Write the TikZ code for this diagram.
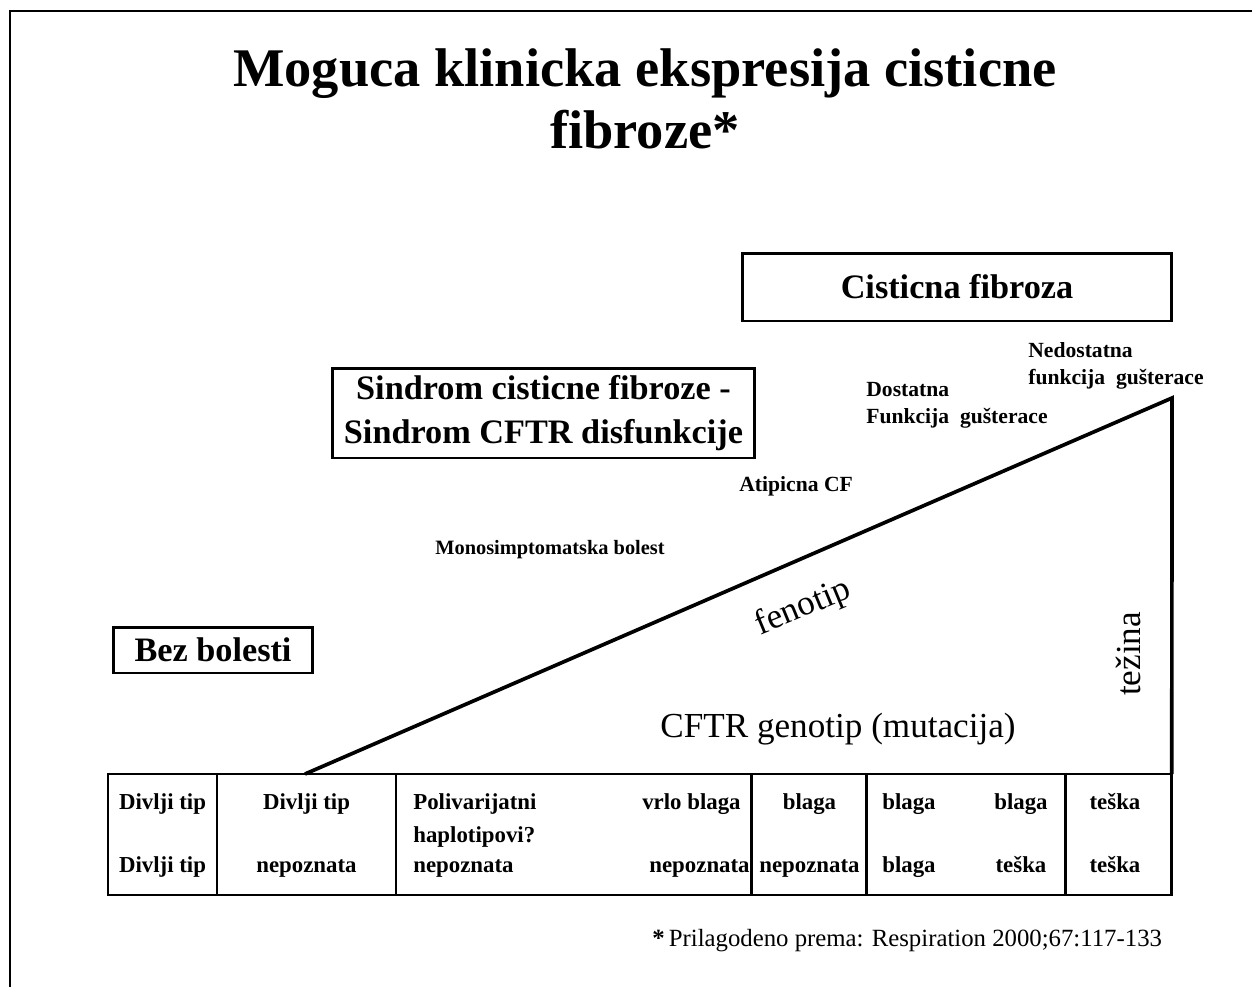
\documentclass[tikz,border=0pt]{standalone}
\usepackage{fontspec}
\setmainfont{Liberation Serif}
\begin{document}
\begin{tikzpicture}[x=0.02cm,y=-0.02cm]
\tikzset{
  frameline/.style={line width=1.4pt},
  labbox/.style={draw, line width=1.7pt, inner sep=0pt, outer sep=0pt, align=center,
    font=\bfseries\fontsize{19.5}{25}\selectfont},
  cell/.style={draw, line width=1.6pt, inner sep=0pt, outer sep=0pt, minimum height=2.42cm, anchor=north west},
  celltxt/.style={font=\bfseries\fontsize{13}{15}\selectfont, inner sep=0pt},
  small/.style={font=\bfseries\fontsize{12.3}{15.5}\selectfont, inner sep=0pt, align=left},
  axislab/.style={font=\fontsize{20}{24}\selectfont, inner sep=0pt},
  triline/.style={line width=2.1pt}
}
\path[use as bounding box] (0,0) rectangle (1252,987);
\draw[frameline] (10,987) -- (10,11) -- (1252,11);

% title
\node[font=\bfseries\fontsize{31}{35}\selectfont, align=center, inner sep=0pt] (title) at (645,99)
  {Moguca klinicka ekspresija cisticne\\fibroze*};

% boxes
\node[labbox, minimum width=8.6cm, minimum height=1.36cm] (cf) at (957,287) {Cisticna fibroza};
\node[labbox, minimum width=8.46cm, minimum height=1.8cm] (scf) at (543.5,413)
  {Sindrom cisticne fibroze -\\Sindrom CFTR disfunkcije};
\node[labbox, minimum width=4.0cm, minimum height=0.92cm] (bez) at (213,650) {Bez bolesti};

% table cells
\node[cell, minimum width=2.18cm] (c1) at (108,774) {};
\node[cell, minimum width=3.58cm] (c2) at (c1.north east) {};
\node[cell, minimum width=7.12cm] (c3) at (c2.north east) {};
\node[cell, minimum width=2.30cm] (c4) at (c3.north east) {};
\node[cell, minimum width=3.98cm] (c5) at (c4.north east) {};
\node[cell, minimum width=2.12cm] (c6) at (c5.north east) {};

% triangle
\coordinate (tA) at (305,774);
\coordinate (tB) at (1172,398);
\coordinate (tC) at (c6.north east);
\draw[triline, line join=miter] (tA) -- (tB) -- (tC);

% table text
\node[celltxt, anchor=mid] (t11) at (162.5,805) {Divlji tip};
\node[celltxt, anchor=mid] (t12) at (162.5,868) {Divlji tip};
\node[celltxt, anchor=mid] (t21) at (306.5,805) {Divlji tip};
\node[celltxt, anchor=mid] (t22) at (306.5,868) {nepoznata};
\node[celltxt, anchor=mid west] (t31) at (413,805) {Polivarijatni};
\node[celltxt, anchor=mid west] (t3h) at (413,838) {haplotipovi?};
\node[celltxt, anchor=mid west] (t32) at (413,868) {nepoznata};
\node[celltxt, anchor=mid east] (t33) at (741,805) {vrlo blaga};
\node[celltxt, anchor=mid east] (t34) at (750,868) {nepoznata};
\node[celltxt, anchor=mid] (t41) at (809.5,805) {blaga};
\node[celltxt, anchor=mid] (t42) at (809.5,868) {nepoznata};
\node[celltxt, anchor=mid] (t51) at (909,805) {blaga};
\node[celltxt, anchor=mid] (t52) at (1021,805) {blaga};
\node[celltxt, anchor=mid] (t53) at (909,868) {blaga};
\node[celltxt, anchor=mid] (t54) at (1021,868) {teška};
\node[celltxt, anchor=mid] (t61) at (1115,805) {teška};
\node[celltxt, anchor=mid] (t62) at (1115,868) {teška};

% small labels
\node[small, anchor=west] (ned) at (1028,366) {Nedostatna\\funkcija\ \ gušterace};
\node[small, anchor=west] (dos) at (866,405) {Dostatna\\Funkcija\ \ gušterace};
\node[small, anchor=mid west] (ati) at (739,487) {Atipicna CF};
\node[small, anchor=mid, font=\bfseries\fontsize{11.6}{14}\selectfont] (mono) at (550,550) {Monosimptomatska bolest};

% axis labels
\node[axislab, rotate=22.5] (fen) at (803,608) {fenotip};
\node[axislab, rotate=90] (tez) at (1128,654) {težina};
\node[axislab, anchor=mid] (gen) at (838,733) {CFTR genotip (mutacija)};

% footnote
\node[font=\fontsize{14.1}{16}\selectfont, anchor=mid west, inner sep=0pt] (foot) at (652,942)
  {\textbf{*}\,Prilagodeno prema: Respiration 2000;67:117-133};
\end{tikzpicture}
\end{document}
